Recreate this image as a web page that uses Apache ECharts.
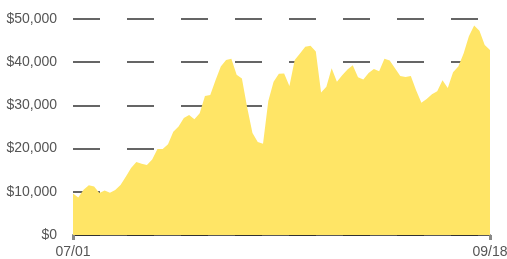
<!DOCTYPE html>
<html><head><meta charset="utf-8">
<script src="https://cdn.jsdelivr.net/npm/echarts@6/dist/echarts.min.js"></script>
<style>html,body{margin:0;padding:0;background:#fff}#c{width:507px;height:259px}</style>
</head><body><div id="c"></div>
<script>
// categories: daily dates 07/01 .. 09/18
const startMonth = 7, startDay = 1, dayCount = 80;
const monthLengths = {7: 31, 8: 31, 9: 30};
const dates = [];
(function () {
  let m = startMonth, d = startDay;
  for (let k = 0; k < dayCount; k++) {
    dates.push(String(m).padStart(2, '0') + '/' + String(d).padStart(2, '0'));
    d++; if (d > monthLengths[m]) { d = 1; m++; }
  }
})();
const values = [
  9600, 8700, 10500, 11500, 11200, 9700, 10300, 9800, 10400, 11600,
  13500, 15500, 16900, 16500, 16200, 17500, 19900, 19900, 21000, 23900,
  25100, 27100, 27800, 26800, 28200, 32200, 32400, 35800, 39000, 40500,
  40800, 37100, 36200, 29500, 23600, 21500, 21100, 31000, 35500, 37300,
  37400, 34500, 40500, 42000, 43600, 43800, 42500, 33000, 34300, 38600,
  35500, 37000, 38300, 39300, 36500, 36000, 37500, 38400, 37900, 40800,
  40400, 38600, 36800, 36600, 36800, 33500, 30600, 31500, 32600, 33300,
  35800, 34000, 37700, 39000, 42000, 46000, 48500, 47300, 44000, 42800
];
const yTicks = [0, 10000, 20000, 30000, 40000, 50000];
const shownLabels = ['07/01', '09/18'];

const chart = echarts.init(document.getElementById('c'), null, {renderer: 'canvas'});
const font = '"Liberation Sans", Arial, sans-serif';
const isShown = (idx, val) => shownLabels.indexOf(val) >= 0;
chart.setOption({
  animation: false,
  grid: {left: 73, right: 17, top: 19, bottom: 24, containLabel: false, outerBoundsMode: 'none'},
  xAxis: {
    type: 'category', data: dates, boundaryGap: false,
    axisLine: {lineStyle: {color: '#222', width: 1.5}},
    axisTick: {show: true, interval: isShown, length: 5, lineStyle: {color: '#888', width: 3}},
    axisLabel: {interval: isShown, color: '#555', fontFamily: font, fontSize: 14, margin: 10},
    splitLine: {show: false}
  },
  yAxis: {
    type: 'value', min: yTicks[0], max: yTicks[yTicks.length - 1], interval: 10000,
    axisLine: {show: false}, axisTick: {show: false},
    axisLabel: {color: '#555', fontFamily: font, fontSize: 14, margin: 16,
      formatter: v => '$' + v.toLocaleString('en-US')},
    splitLine: {show: true, lineStyle: {color: '#333', width: 1.5, type: [27, 27], dashOffset: 0}}
  },
  series: [{
    type: 'line', data: values, symbol: 'none', smooth: false,
    lineStyle: {width: 0, color: '#FFE566'},
    areaStyle: {color: '#FFE566', opacity: 1}
  }]
});
</script></body></html>
